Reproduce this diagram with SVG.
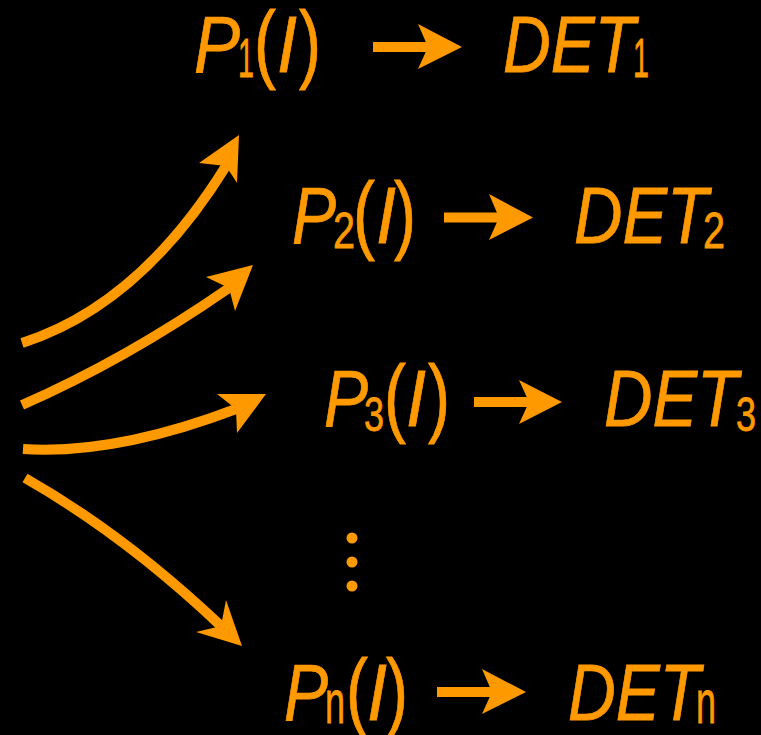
<svg xmlns="http://www.w3.org/2000/svg" width="761" height="735" viewBox="0 0 761 735">
<style>
text{font-family:"Liberation Sans",Arial,sans-serif;fill:#FF9900;stroke:#FF9900;stroke-width:0.8}
.t{font-style:italic;font-size:80px}
.p{font-style:normal;font-size:88px}
.s{font-style:normal;font-size:50px}
.sn{font-style:normal;font-size:62px}
.c{fill:none;stroke:#FF9900;stroke-width:10}
.h{fill:#FF9900}
</style>
<rect width="761" height="735" fill="#000"/>
<g id="connectors">
<path class="c" d="M22,343 Q140,305 226,166"/>
<polygon class="h" points="239,135 199,163 226,166 237,183"/>
<path class="c" d="M22,405 Q125,360 229,288"/>
<polygon class="h" points="253,265 206,277 229,288 235,311"/>
<path class="c" d="M23,449 Q115,455 236,409"/>
<polygon class="h" points="266,394 217,394 236,409 237,433"/>
<path class="c" d="M25,478 Q125,535 221,626"/>
<polygon class="h" points="242,646 196,632 221,626 226,600"/>
<line class="c" x1="373" y1="47" x2="432" y2="47"/>
<polygon class="h" points="462,47 418,24 428,47 418,69"/>
<line class="c" x1="444" y1="217.5" x2="503" y2="217.5"/>
<polygon class="h" points="533,217.5 489,194 499,217.5 489,240"/>
<line class="c" x1="474" y1="402" x2="533" y2="402"/>
<polygon class="h" points="562,402 519,380 529,402 519,424"/>
<line class="c" x1="437" y1="692" x2="496" y2="692"/>
<polygon class="h" points="526,692 482,669 492,692 482,714"/>
</g>
<g id="row1">
<text class="t" x="194" y="72" textLength="46" lengthAdjust="spacingAndGlyphs">P</text>
<text class="s" x="238" y="77" style="font-size:56px" textLength="16" lengthAdjust="spacingAndGlyphs">1</text>
<text class="p" x="254" y="72" textLength="22" lengthAdjust="spacingAndGlyphs">(</text>
<text class="t" x="277" y="72" textLength="20" lengthAdjust="spacingAndGlyphs">I</text>
<text class="p" x="299" y="72" textLength="22" lengthAdjust="spacingAndGlyphs">)</text>
<text class="t" x="503" y="72" textLength="132" lengthAdjust="spacingAndGlyphs">DET</text>
<text class="s" x="633" y="77" style="font-size:56px" textLength="16" lengthAdjust="spacingAndGlyphs">1</text>
</g>
<g id="row2">
<text class="t" x="292" y="243" textLength="44" lengthAdjust="spacingAndGlyphs">P</text>
<text class="s" x="333" y="248" textLength="22" lengthAdjust="spacingAndGlyphs">2</text>
<text class="p" x="353" y="243" textLength="22" lengthAdjust="spacingAndGlyphs">(</text>
<text class="t" x="376" y="243" textLength="20" lengthAdjust="spacingAndGlyphs">I</text>
<text class="p" x="394" y="243" textLength="22" lengthAdjust="spacingAndGlyphs">)</text>
<text class="t" x="574" y="243" textLength="134" lengthAdjust="spacingAndGlyphs">DET</text>
<text class="s" x="703" y="248" textLength="22" lengthAdjust="spacingAndGlyphs">2</text>
</g>
<g id="row3">
<text class="t" x="324" y="426" textLength="44" lengthAdjust="spacingAndGlyphs">P</text>
<text class="s" x="364" y="431" style="font-size:48px" textLength="20" lengthAdjust="spacingAndGlyphs">3</text>
<text class="p" x="384" y="426" textLength="22" lengthAdjust="spacingAndGlyphs">(</text>
<text class="t" x="406" y="426" textLength="20" lengthAdjust="spacingAndGlyphs">I</text>
<text class="p" x="428" y="426" textLength="22" lengthAdjust="spacingAndGlyphs">)</text>
<text class="t" x="604" y="426" textLength="134" lengthAdjust="spacingAndGlyphs">DET</text>
<text class="s" x="736" y="431" style="font-size:48px" textLength="20" lengthAdjust="spacingAndGlyphs">3</text>
</g>
<g id="dots">
<circle class="h" cx="352" cy="538" r="5.5"/>
<circle class="h" cx="352" cy="562" r="5.5"/>
<circle class="h" cx="352" cy="586" r="5.5"/>
</g>
<g id="rown">
<text class="t" x="284" y="720" textLength="44" lengthAdjust="spacingAndGlyphs">P</text>
<text class="sn" x="325" y="723" textLength="20" lengthAdjust="spacingAndGlyphs">n</text>
<text class="p" x="346" y="720" textLength="22" lengthAdjust="spacingAndGlyphs">(</text>
<text class="t" x="367" y="720" textLength="20" lengthAdjust="spacingAndGlyphs">I</text>
<text class="p" x="386" y="720" textLength="22" lengthAdjust="spacingAndGlyphs">)</text>
<text class="t" x="568" y="720" textLength="132" lengthAdjust="spacingAndGlyphs">DET</text>
<text class="sn" x="696" y="723" textLength="20" lengthAdjust="spacingAndGlyphs">n</text>
</g>
</svg>
